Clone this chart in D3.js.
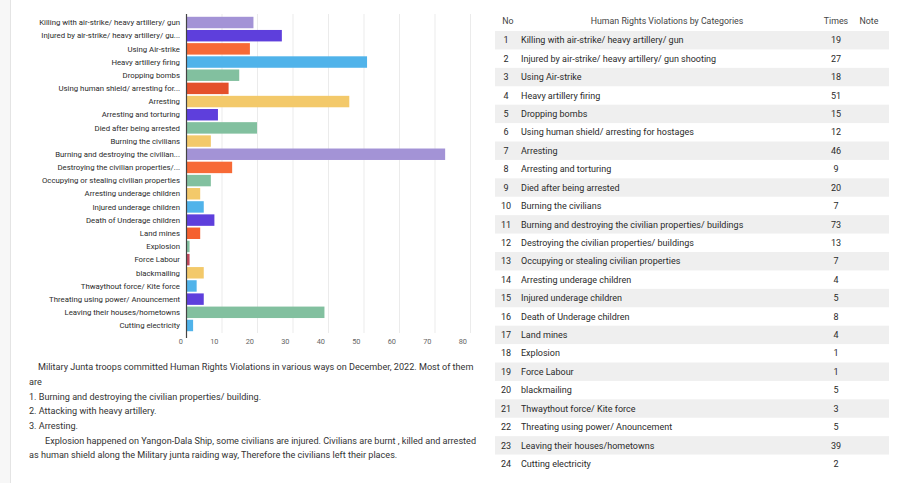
<!DOCTYPE html>
<html>
<head>
<meta charset="utf-8">
<script src="https://cdn.jsdelivr.net/npm/d3@7"></script>
<style>
  html, body { margin: 0; padding: 0; background: #fff; }
  svg { display: block; font-family: Roboto, "Noto Sans", sans-serif; }
</style>
</head>
<body>
<div id="chart"></div>
<script>
// data
const categories = [
  "Killing with air-strike/ heavy artillery/ gun",
  "Injured by air-strike/ heavy artillery/ gun shooting",
  "Using Air-strike",
  "Heavy artillery firing",
  "Dropping bombs",
  "Using human shield/ arresting for hostages",
  "Arresting",
  "Arresting and torturing",
  "Died after being arrested",
  "Burning the civilians",
  "Burning and destroying the civilian properties/ buildings",
  "Destroying the civilian properties/ buildings",
  "Occupying or stealing civilian properties",
  "Arresting underage children",
  "Injured underage children",
  "Death of Underage children",
  "Land mines",
  "Explosion",
  "Force Labour",
  "blackmailing",
  "Thwaythout force/ Kite force",
  "Threating using power/ Anouncement",
  "Leaving their houses/hometowns",
  "Cutting electricity"
];
const shortLabels = [
  "Killing with air-strike/ heavy artillery/ gun",
  "Injured by air-strike/ heavy artillery/ gu...",
  "Using Air-strike",
  "Heavy artillery firing",
  "Dropping bombs",
  "Using human shield/ arresting for...",
  "Arresting",
  "Arresting and torturing",
  "Died after being arrested",
  "Burning the civilians",
  "Burning and destroying the civilian...",
  "Destroying the civilian properties/...",
  "Occupying or stealing civilian properties",
  "Arresting underage children",
  "Injured underage children",
  "Death of Underage children",
  "Land mines",
  "Explosion",
  "Force Labour",
  "blackmailing",
  "Thwaythout force/ Kite force",
  "Threating using power/ Anouncement",
  "Leaving their houses/hometowns",
  "Cutting electricity"
];
const times = [19, 27, 18, 51, 15, 12, 46, 9, 20, 7, 73, 13, 7, 4, 5, 8, 4, 1, 1, 5, 3, 5, 39, 2];
const barColors = [
  "#a393d6", "#5e3fdc", "#f76a36", "#50b3ea", "#82c09f", "#e4502b",
  "#f3c96a", "#5e3fdc", "#82c09f", "#f3c96a", "#a393d6", "#f76a36",
  "#82c09f", "#f3c96a", "#50b3ea", "#5e3fdc", "#f5602f", "#82c09f",
  "#c0475a", "#f3c96a", "#50b3ea", "#5e3fdc", "#82c09f", "#50b3ea"
];
const xTicks = [0, 10, 20, 30, 40, 50, 60, 70, 80];
const tableHeaders = ["No", "Human Rights Violations by Categories", "Times", "Note"];
const noteLines = [
  "Military Junta troops committed Human Rights Violations in various ways on December, 2022. Most of them",
  "are",
  "1. Burning and destroying the civilian properties/ building.",
  "2. Attacking with heavy artillery.",
  "3. Arresting.",
  "Explosion happened on Yangon-Dala Ship, some civilians are injured. Civilians are burnt , killed and arrested",
  "as human shield along the Military junta raiding way, Therefore the civilians left their places."
];
const noteIndent = [9, 0, 0, 0, 0, 16, 0];

const W = 902, H = 483;
const svg = d3.select("#chart").append("svg")
  .attr("width", W).attr("height", H);

svg.append("rect").attr("width", W).attr("height", H).attr("fill", "#fff");
// page edge on the left
svg.append("rect").attr("x", 0).attr("y", 0).attr("width", 10).attr("height", H).attr("fill", "#f7f7f7");
svg.append("line").attr("x1", 10.5).attr("x2", 10.5).attr("y1", 0).attr("y2", H)
  .attr("stroke", "#e4e4e4");

// ---- bar chart ----
const x = d3.scaleLinear().domain([0, 80]).range([186, 470]);
const y = d3.scaleBand().domain(categories).range([16, 332]).paddingInner(0.13).paddingOuter(0.06);

svg.append("g").selectAll("line")
  .data(xTicks.slice(1))
  .join("line")
  .attr("x1", d => x(d) + 0.5).attr("x2", d => x(d) + 0.5)
  .attr("y1", 14).attr("y2", 333)
  .attr("stroke", "#ebebeb");

svg.append("g").selectAll("rect")
  .data(categories)
  .join("rect")
  .attr("x", x(0))
  .attr("y", d => y(d))
  .attr("width", (d, i) => x(times[i]) - x(0))
  .attr("height", y.bandwidth())
  .attr("fill", (d, i) => barColors[i]);

svg.append("line").attr("x1", x(0) + 0.5).attr("x2", x(0) + 0.5)
  .attr("y1", 14).attr("y2", 338).attr("stroke", "#444").attr("stroke-width", 1.2);

svg.append("g").selectAll("text")
  .data(categories)
  .join("text")
  .attr("x", 180)
  .attr("y", d => y(d) + y.bandwidth() / 2)
  .attr("dy", "0.35em")
  .attr("text-anchor", "end")
  .attr("font-size", 7.8)
  .attr("fill", "#2a2a2a")
  .text((d, i) => shortLabels[i]);

svg.append("g").selectAll("text")
  .data(xTicks)
  .join("text")
  .attr("x", d => x(d) - 3)
  .attr("y", 341)
  .attr("dy", "0.35em")
  .attr("text-anchor", "end")
  .attr("font-size", 7.4)
  .attr("fill", "#666")
  .text(d => d);

// ---- note text ----
svg.append("g").selectAll("text")
  .data(noteLines)
  .join("text")
  .attr("x", (d, i) => 29 + noteIndent[i])
  .attr("y", (d, i) => 367 + i * 14.7)
  .attr("dy", "0.35em")
  .attr("font-size", 9.1)
  .attr("fill", "#333")
  .text(d => d);

// ---- table ----
const rows = d3.scaleBand().domain(d3.range(categories.length)).range([31, 473]);
const colX = { no: 506, cat: 521, times: 836, note: 869 };

svg.append("g").selectAll("rect")
  .data(d3.range(categories.length).filter(i => i % 2 === 0))
  .join("rect")
  .attr("x", 495).attr("width", 394)
  .attr("y", i => rows(i))
  .attr("height", rows.bandwidth())
  .attr("fill", "#efefef");

const head = svg.append("g").attr("font-size", 8.8).attr("fill", "#444");
head.append("text").attr("x", colX.no + 2).attr("y", 21).attr("dy", "0.35em")
  .attr("text-anchor", "middle").text(tableHeaders[0]);
head.append("text").attr("x", 667).attr("y", 21).attr("dy", "0.35em")
  .attr("text-anchor", "middle").text(tableHeaders[1]);
head.append("text").attr("x", colX.times).attr("y", 21).attr("dy", "0.35em")
  .attr("text-anchor", "middle").text(tableHeaders[2]);
head.append("text").attr("x", colX.note).attr("y", 21).attr("dy", "0.35em")
  .attr("text-anchor", "middle").text(tableHeaders[3]);

const rowG = svg.append("g").attr("font-size", 9).attr("fill", "#2a2a2a");
rowG.selectAll("text.no")
  .data(categories)
  .join("text").attr("class", "no")
  .attr("x", colX.no).attr("y", (d, i) => rows(i) + rows.bandwidth() / 2)
  .attr("dy", "0.35em").attr("text-anchor", "middle")
  .text((d, i) => i + 1);
rowG.selectAll("text.cat")
  .data(categories)
  .join("text").attr("class", "cat")
  .attr("x", colX.cat).attr("y", (d, i) => rows(i) + rows.bandwidth() / 2)
  .attr("dy", "0.35em")
  .text(d => d);
rowG.selectAll("text.times")
  .data(times)
  .join("text").attr("class", "times")
  .attr("x", colX.times).attr("y", (d, i) => rows(i) + rows.bandwidth() / 2)
  .attr("dy", "0.35em").attr("text-anchor", "middle")
  .text(d => d);
</script>
</body>
</html>
